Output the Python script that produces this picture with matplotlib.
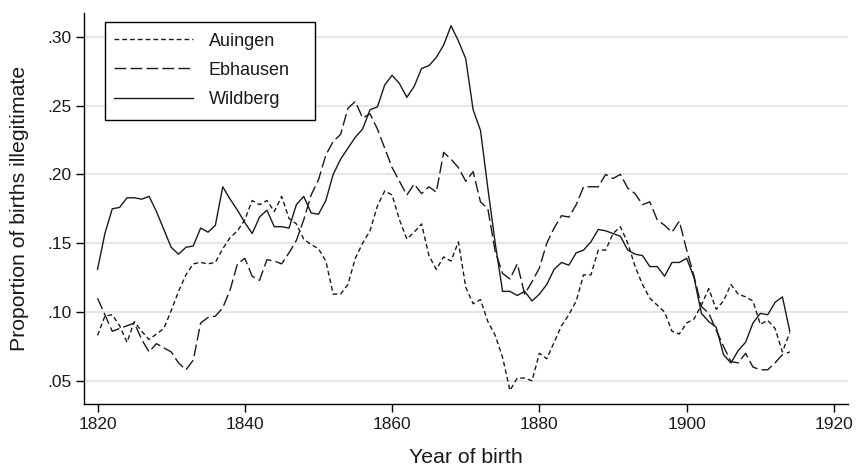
import matplotlib
matplotlib.use("Agg")
import matplotlib.pyplot as plt
from matplotlib.patches import Rectangle

# birth cohorts, one value per year
years = list(range(1820, 1915))

auingen = [
    .083, .097, .098, .090, .078, .093, .086, .080, .084, .088,
    .101, .115, .127, .135, .136, .135, .136, .146, .154, .159,
    .167, .181, .178, .181, .173, .184, .168, .164, .153, .149,
    .146, .137, .113, .113, .120, .139, .150, .159, .177, .188,
    .185, .167, .153, .158, .164, .141, .131, .140, .137, .151,
    .118, .106, .109, .093, .083, .067, .043, .052, .052, .050,
    .070, .066, .078, .090, .098, .108, .127, .127, .145, .145,
    .157, .162, .150, .133, .120, .110, .105, .100, .086, .084,
    .092, .095, .105, .117, .102, .108, .120, .113, .111, .108,
    .091, .094, .088, .071, .085,
]

ebhausen = [
    .110, .098, .086, .088, .090, .092, .080, .071, .077, .074,
    .071, .063, .058, .065, .092, .096, .097, .103, .116, .135,
    .139, .126, .123, .138, .137, .135, .143, .152, .167, .185,
    .196, .214, .224, .229, .248, .253, .241, .244, .233, .219,
    .205, .195, .185, .193, .186, .191, .187, .216, .211, .205,
    .195, .202, .180, .175, .144, .128, .124, .135, .113, .122,
    .132, .150, .161, .170, .169, .178, .191, .191, .191, .200,
    .197, .200, .190, .186, .178, .180, .167, .163, .158, .166,
    .145, .126, .104, .099, .087, .075, .064, .063, .070, .060,
    .058, .058, .063, .069, .071,
]

wildberg = [
    .131, .157, .175, .176, .183, .183, .182, .184, .173, .160,
    .147, .142, .147, .148, .161, .158, .163, .191, .182, .174,
    .165, .157, .169, .174, .162, .162, .161, .178, .184, .172,
    .171, .181, .200, .211, .219, .227, .233, .247, .249, .265,
    .272, .266, .256, .264, .277, .279, .285, .294, .308, .297,
    .284, .247, .232, .190, .150, .115, .115, .112, .115, .108,
    .113, .120, .131, .136, .134, .143, .145, .151, .160, .159,
    .157, .155, .145, .142, .141, .133, .133, .126, .136, .136,
    .139, .125, .099, .093, .089, .069, .063, .072, .078, .092,
    .099, .098, .107, .111, .086,
]

y_ticks = [.05, .10, .15, .20, .25, .30]
y_tick_labels = [".05", ".10", ".15", ".20", ".25", ".30"]
x_ticks = [1820, 1840, 1860, 1880, 1900, 1920]

plt.rcParams["font.family"] = ["Liberation Sans", "DejaVu Sans"]
plt.rcParams["font.size"] = 12.5

fig = plt.figure(figsize=(8.6, 4.7), dpi=100)
ax = fig.add_axes([0.098, 0.140, 0.888, 0.833])

ink = "#1a1a1a"
ax.plot(years, auingen, color=ink, lw=1.0, dashes=(3.4, 2.2), label="Auingen")
ax.plot(years, ebhausen, color=ink, lw=1.0, dashes=(8.5, 3.0), label="Ebhausen")
ax.plot(years, wildberg, color=ink, lw=1.0, label="Wildberg")

ax.set_xlim(1818.2, 1921.9)
ax.set_ylim(0.033, 0.3175)
ax.set_yticks(y_ticks)
ax.set_yticklabels(y_tick_labels)
ax.set_xticks(x_ticks)

ax.grid(axis="y", color="#e2e2e2", lw=1.2)
ax.set_axisbelow(True)
for side in ["top", "right"]:
    ax.spines[side].set_visible(False)
for side in ["left", "bottom"]:
    ax.spines[side].set_color("black")
    ax.spines[side].set_linewidth(1.0)
ax.tick_params(direction="out", length=6, width=1.0, color="black",
               labelsize=12.5, labelcolor=ink, pad=3)

ax.set_xlabel("Year of birth", fontsize=15.3, color=ink, labelpad=12)
ax.set_ylabel("Proportion of births illegitimate", fontsize=15.3, color=ink, labelpad=13)

leg = ax.legend(loc="upper left", bbox_to_anchor=(0.027, 0.972), borderaxespad=0,
                frameon=False, handlelength=4.4, handletextpad=0.85,
                labelspacing=0.67, borderpad=0.5, fontsize=13)
for t in leg.get_texts():
    t.set_color(ink)

# legend box, a little wider than the entries (as in the original)
ax.add_patch(Rectangle((105 / 860, 1 - 120 / 470), 210 / 860, 98 / 470,
                       transform=fig.transFigure, fill=True, facecolor="white",
                       edgecolor="black", lw=1.0, zorder=4))
leg.set_zorder(5)

fig.savefig("out.png", dpi=100)
